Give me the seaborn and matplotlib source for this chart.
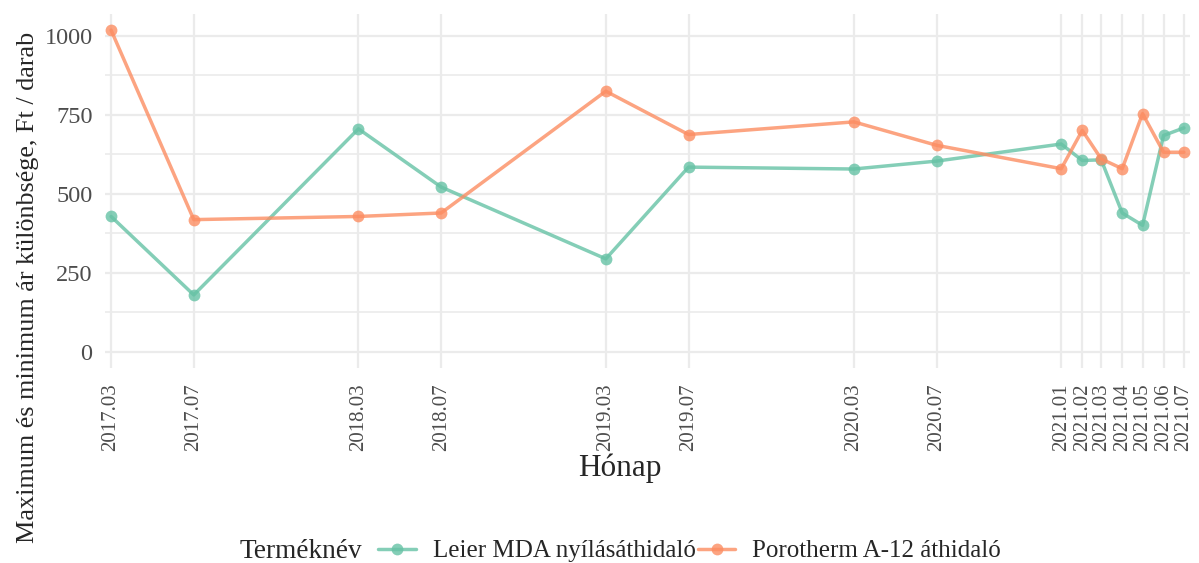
import matplotlib
matplotlib.use("Agg")
import matplotlib.pyplot as plt
import numpy as np
import pandas as pd
import seaborn as sns

sns.set_style("white")
plt.rcParams['font.family'] = ['Liberation Serif', 'DejaVu Serif']

months = ["2017-03", "2017-07", "2018-03", "2018-07", "2019-03", "2019-07",
          "2020-03", "2020-07", "2021-01", "2021-02", "2021-03", "2021-04",
          "2021-05", "2021-06", "2021-07"]
leier = [428, 180, 705, 521, 294, 584, 578, 603, 657, 605, 607, 439, 400, 684, 708]
porotherm = [1017, 418, 428, 439, 824, 687, 727, 653, 579, 700, 610, 579, 753, 631, 631]
products = ["Leier MDA nyílásáthidaló", "Porotherm A-12 áthidaló"]

dates = pd.to_datetime(months)
df = pd.DataFrame({
    "Hónap": list(dates) * 2,
    "diff": leier + porotherm,
    "Terméknév": [products[0]] * len(months) + [products[1]] * len(months),
})

W, H = 1199, 563
fig = plt.figure(figsize=(W / 100, H / 100), dpi=100)
ax = fig.add_axes([105 / W, 1 - 368 / H, (1190 - 105) / W, (368 - 14) / H])

# grid first, ggplot minimal style
grid_c = "#ebebeb"
for y in [0, 250, 500, 750, 1000]:
    ax.axhline(y, color=grid_c, lw=1.6, zorder=0)
for y in [125, 375, 625, 875]:
    ax.axhline(y, color=grid_c, lw=1.2, zorder=0)
for d in dates:
    ax.axvline(d, color=grid_c, lw=1.6, zorder=0)

sns.lineplot(data=df, x="Hónap", y="diff", hue="Terméknév", palette="Set2",
             marker="o", markersize=8.5, markeredgewidth=0, linewidth=2.5, alpha=0.8,
             ax=ax, legend=False)

ax.set_xlim(dates[0] - pd.Timedelta(days=9), dates[-1] + pd.Timedelta(days=9))
ax.set_ylim(-51, 1068)
ax.set_xticks(dates)
ax.set_xticklabels([d.strftime("%Y.%m") for d in dates], rotation=90)
ax.set_yticks([0, 250, 500, 750, 1000])
ax.tick_params(axis="both", length=0, labelcolor="#4d4d4d")
ax.tick_params(axis="x", labelsize=15, pad=11)
ax.tick_params(axis="y", labelsize=17.5, pad=9)
for s in ax.spines.values():
    s.set_visible(False)
ax.grid(False)
ax.set_xlabel("")
ax.set_ylabel("")

fig.text(620 / W, 1 - 468 / H, "Hónap", fontsize=22.5, ha="center", va="center")
fig.text(28 / W, 1 - 287 / H, "Maximum és minimum ár különbsége, Ft / darab",
         fontsize=18.8, rotation=90, ha="center", va="center")

# legend in ggplot bottom layout: title to the left of keys
pal = sns.color_palette("Set2", 2)
handles = [plt.Line2D([], [], color=c, lw=2.5, marker="o", markersize=8.5, mew=0, alpha=0.8) for c in pal]
fig.text(240 / W, 1 - 551 / H, "Terméknév", fontsize=19.6, va="center", ha="left")
fig.legend(handles, products, loc="center left", bbox_to_anchor=(378 / W, 1 - 551 / H),
           ncol=2, frameon=False, fontsize=18, handlelength=1.5, handletextpad=0.68,
           columnspacing=0.1, borderpad=0, borderaxespad=0)

fig.savefig("out.png", dpi=100)
